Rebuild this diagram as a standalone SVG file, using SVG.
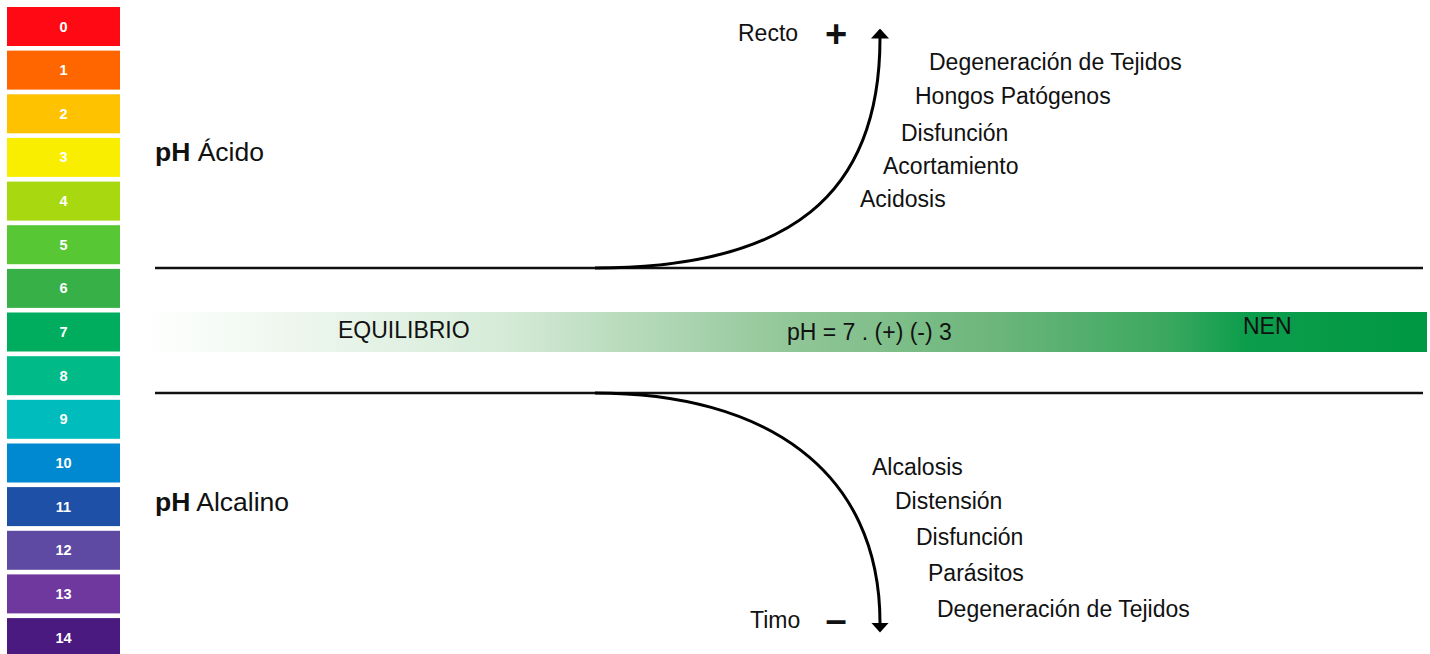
<svg xmlns="http://www.w3.org/2000/svg" width="1430" height="654" viewBox="0 0 1430 654">
<defs>
<style>
.num{font-family:"Liberation Sans",Arial,sans-serif;font-weight:bold;font-size:14.5px;fill:#ffffff;text-anchor:middle}
.t{font-family:"Liberation Sans",Arial,sans-serif;font-size:23px;fill:#111111}
.h{font-family:"Liberation Sans",Arial,sans-serif;font-size:26.5px;fill:#111111}
.sym{font-family:"Liberation Sans",Arial,sans-serif;font-size:38px;font-weight:bold;fill:#111111;text-anchor:middle}
.ln{stroke:#111111;stroke-width:2.5;fill:none}
.cv{stroke:#000000;stroke-width:3;fill:none}
</style>
<linearGradient id="eq" x1="0" y1="0" x2="1" y2="0">
<stop offset="0" stop-color="#ffffff"/>
<stop offset="0.28" stop-color="#d6ebd8"/>
<stop offset="0.5" stop-color="#93c799"/>
<stop offset="0.67" stop-color="#6ab57a"/>
<stop offset="0.8" stop-color="#3aa85e"/>
<stop offset="0.86" stop-color="#0c9d4c"/>
<stop offset="1" stop-color="#009843"/>
</linearGradient>
<marker id="ah" markerWidth="10" markerHeight="18" refX="0.5" refY="9" orient="auto" markerUnits="userSpaceOnUse" viewBox="0 0 10 18">
<path d="M0,0 L10,9 L0,18 Z" fill="#000"/>
</marker>
</defs>
<rect width="1430" height="654" fill="#ffffff"/>

<g id="scale">
<g id="ph0"><rect x="7" y="7" width="113" height="39" fill="#ff0a14"/><text class="num" x="63.5" y="31.5">0</text></g>
<g id="ph1"><rect x="7" y="50.6" width="113" height="39" fill="#ff6600"/><text class="num" x="63.5" y="75.1">1</text></g>
<g id="ph2"><rect x="7" y="94.3" width="113" height="39" fill="#ffc200"/><text class="num" x="63.5" y="118.8">2</text></g>
<g id="ph3"><rect x="7" y="137.9" width="113" height="39" fill="#f9ee00"/><text class="num" x="63.5" y="162.4">3</text></g>
<g id="ph4"><rect x="7" y="181.6" width="113" height="39" fill="#a8d810"/><text class="num" x="63.5" y="206.1">4</text></g>
<g id="ph5"><rect x="7" y="225.2" width="113" height="39" fill="#58c734"/><text class="num" x="63.5" y="249.7">5</text></g>
<g id="ph6"><rect x="7" y="268.9" width="113" height="39" fill="#38b048"/><text class="num" x="63.5" y="293.4">6</text></g>
<g id="ph7"><rect x="7" y="312.5" width="113" height="39" fill="#00ad5e"/><text class="num" x="63.5" y="337">7</text></g>
<g id="ph8"><rect x="7" y="356.2" width="113" height="39" fill="#00ba88"/><text class="num" x="63.5" y="380.7">8</text></g>
<g id="ph9"><rect x="7" y="399.8" width="113" height="39" fill="#00bcbc"/><text class="num" x="63.5" y="424.3">9</text></g>
<g id="ph10"><rect x="7" y="443.5" width="113" height="39" fill="#0088d0"/><text class="num" x="63.5" y="468">10</text></g>
<g id="ph11"><rect x="7" y="487.1" width="113" height="39" fill="#1f50a8"/><text class="num" x="63.5" y="511.6">11</text></g>
<g id="ph12"><rect x="7" y="530.8" width="113" height="39" fill="#5e4aa2"/><text class="num" x="63.5" y="555.3">12</text></g>
<g id="ph13"><rect x="7" y="574.4" width="113" height="39" fill="#6f389e"/><text class="num" x="63.5" y="598.9">13</text></g>
<g id="ph14"><rect x="7" y="618.1" width="113" height="39" fill="#4a1a80"/><text class="num" x="63.5" y="642.6">14</text></g>
</g>

<g id="equilibrium">
<rect x="140" y="312" width="1287" height="40" fill="url(#eq)"/>
<text class="t" x="338" y="338">EQUILIBRIO</text>
<text class="t" x="787" y="340">pH = 7 . (+) (-) 3</text>
<text class="t" x="1243" y="334">NEN</text>
</g>

<g id="labels">
<text class="h" x="155" y="161"><tspan font-weight="bold">pH</tspan> Ácido</text>
<text class="h" x="155" y="511"><tspan font-weight="bold">pH</tspan> Alcalino</text>
</g>

<g id="acid">
<text class="t" x="738" y="41">Recto</text>
<text class="sym" x="836" y="47">+</text>
<text class="t" x="929" y="70">Degeneración de Tejidos</text>
<text class="t" x="915" y="104">Hongos Patógenos</text>
<text class="t" x="901" y="141">Disfunción</text>
<text class="t" x="883" y="174">Acortamiento</text>
<text class="t" x="860" y="207">Acidosis</text>
</g>

<g id="alkaline">
<text class="t" x="750" y="628">Timo</text>
<text class="sym" x="836" y="633">–</text>
<text class="t" x="872" y="475">Alcalosis</text>
<text class="t" x="895" y="509">Distensión</text>
<text class="t" x="916" y="545">Disfunción</text>
<text class="t" x="928" y="581">Parásitos</text>
<text class="t" x="937" y="617">Degeneración de Tejidos</text>
</g>

<g id="connectors">
<line class="ln" x1="155" y1="268" x2="1423" y2="268"/>
<line class="ln" x1="155" y1="393" x2="1423" y2="393"/>
<path class="cv" d="M595,268 C790,268 880,195 880,38" marker-end="url(#ah)"/>
<path class="cv" d="M595,393 C765,393 880,470 880,623" marker-end="url(#ah)"/>
</g>
</svg>
